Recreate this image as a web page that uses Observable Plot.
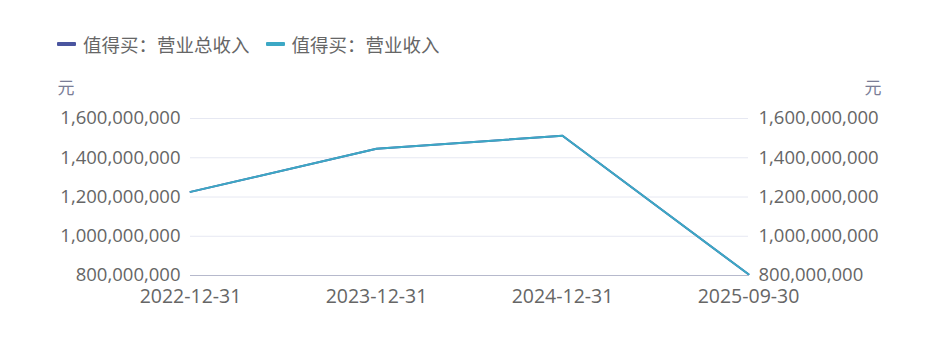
<!DOCTYPE html>
<html>
<head>
<meta charset="utf-8">
<script src="https://cdn.jsdelivr.net/npm/d3@7"></script>
<script src="https://cdn.jsdelivr.net/npm/@observablehq/plot@0.6"></script>
<style>
  html, body { margin: 0; padding: 0; background: #fff; }
  body { width: 937px; height: 339px; overflow: hidden; font-family: "Noto Sans CJK SC", "Noto Sans", sans-serif; }
  #legend { height: 70px; box-sizing: border-box; padding-top: 31px; padding-left: 57px; display: flex; align-items: flex-start; font-size: 18.5px; color: #666; line-height: 26px; }
  .item { display: flex; align-items: center; margin-right: 16px; }
  .swatch { width: 19px; height: 4px; border-radius: 1px; margin-right: 7px; }
</style>
</head>
<body>
<div id="legend"></div>
<div id="chart"></div>
<script>
const categories = ["2022-12-31", "2023-12-31", "2024-12-31", "2025-09-30"];
const seriesNames = ["值得买：营业总收入", "值得买：营业收入"];
const totalRevenue = [1226000000, 1446000000, 1512000000, 806000000];
const revenue = [1226000000, 1446000000, 1512000000, 806000000];
const colors = ["#4a559f", "#3ca8c5"];
const yTicks = [800000000, 1000000000, 1200000000, 1400000000, 1600000000];
const unit = "元";

const legend = document.getElementById("legend");
seriesNames.forEach((name, i) => {
  const it = document.createElement("div");
  it.className = "item";
  it.innerHTML = `<span class="swatch" style="background:${colors[i]}"></span><span>${name}</span>`;
  legend.appendChild(it);
});

const data = [];
categories.forEach((c, i) => {
  data.push({date: c, value: totalRevenue[i], series: seriesNames[0]});
});
categories.forEach((c, i) => {
  data.push({date: c, value: revenue[i], series: seriesNames[1]});
});

const fmt = d3.format(",");
const numFont = "\"Open Sans\", \"Noto Sans CJK SC\", sans-serif";
const chart = Plot.plot({
  width: 937,
  height: 269,
  marginTop: 48,
  marginBottom: 64,
  marginLeft: 190,
  marginRight: 189,
  style: {fontSize: "18.5px", fontFamily: numFont, color: "#666", background: "#fff"},
  x: {type: "point", domain: categories, padding: 0},
  y: {domain: [800000000, 1600000000]},
  color: {domain: seriesNames, range: colors},
  marks: [
    Plot.ruleY(yTicks.slice(1), {stroke: "#e6e8f2", strokeWidth: 1}),
    Plot.ruleY([yTicks[0]], {stroke: "#b6b9cc", strokeWidth: 1}),
    Plot.axisY({anchor: "left", ticks: yTicks, tickFormat: fmt, tickSize: 0, tickPadding: 10, label: null, fill: "#666"}),
    Plot.axisY({anchor: "right", ticks: yTicks, tickFormat: fmt, tickSize: 0, tickPadding: 10, label: null, fill: "#666"}),
    Plot.axisX({tickSize: 0, tickPadding: 14, label: null, fill: "#666", fontSize: 19.5}),
    Plot.text([unit], {frameAnchor: "top-left", dx: -133, dy: -37, text: d => d, fill: "#7a7d96", textAnchor: "start", fontSize: 17, fontFamily: "Noto Sans CJK SC"}),
    Plot.text([unit], {frameAnchor: "top-right", dx: 133, dy: -37, text: d => d, fill: "#7a7d96", textAnchor: "end", fontSize: 17, fontFamily: "Noto Sans CJK SC"}),
    Plot.line(data, {x: "date", y: "value", z: "series", stroke: "series", strokeWidth: 2})
  ]
});
document.getElementById("chart").appendChild(chart);
</script>
</body>
</html>
